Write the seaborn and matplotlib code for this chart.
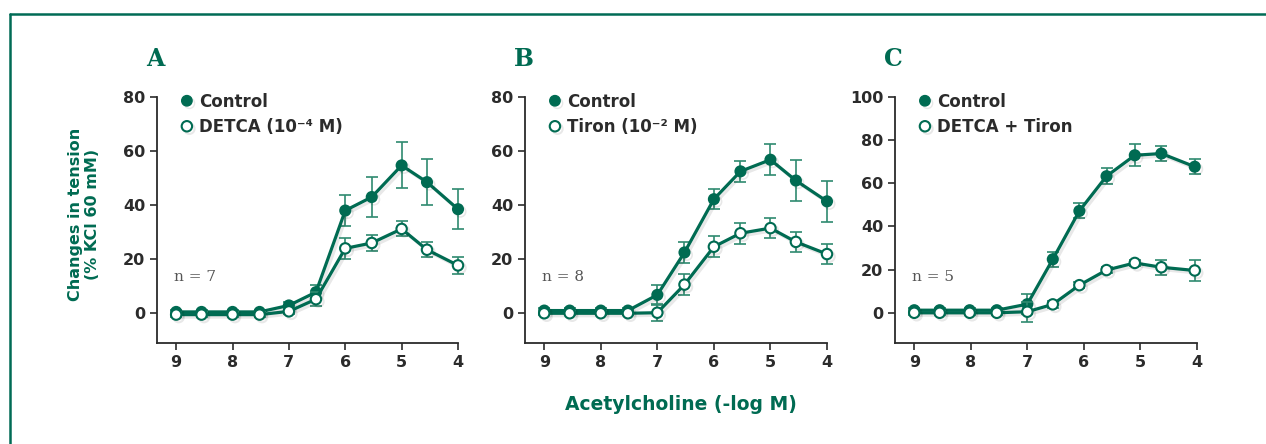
import numpy as np
import pandas as pd
import seaborn as sns
import matplotlib
matplotlib.use("Agg")
import matplotlib.pyplot as plt
from matplotlib.lines import Line2D
import matplotlib.patheffects as pe

# ---------------- data ----------------
x_ab = [9, 8.55, 8, 7.52, 7, 6.52, 6, 5.53, 5, 4.55, 4]
x_c = [9, 8.55, 8.02, 7.54, 7.0, 6.55, 6.08, 5.6, 5.1, 4.63, 4.04]

a_ctrl = [0.5, 0.5, 0.5, 0.5, 2.9, 7.8, 38, 43, 54.7, 48.5, 38.5]
a_ctrl_err = [0.8, 0.8, 0.8, 0.8, 1.2, 2.8, 5.7, 7.5, 8.5, 8.6, 7.5]
a_trt = [-0.5, -0.5, -0.5, -0.5, 0.7, 5.2, 24, 26, 31.2, 23.5, 17.7]
a_trt_err = [0.8, 0.8, 0.8, 0.8, 1.0, 2.6, 3.8, 2.9, 2.8, 2.8, 3.0]

b_ctrl = [1, 1, 1, 1, 6.8, 22.5, 42.2, 52.5, 56.8, 49.1, 41.4]
b_ctrl_err = [0.8, 0.8, 0.8, 0.8, 3.5, 3.8, 3.8, 3.8, 5.7, 7.7, 7.7]
b_trt = [0, 0, 0, 0, 0.2, 10.6, 24.6, 29.6, 31.5, 26.4, 21.9]
b_trt_err = [0.8, 0.8, 0.8, 0.8, 3.0, 3.8, 3.8, 3.8, 3.8, 3.8, 3.8]

c_ctrl = [1.2, 1.2, 1.2, 1.2, 4, 24.8, 47.2, 63.3, 73, 73.8, 67.7]
c_ctrl_err = [1.0, 1.0, 1.0, 1.0, 4.6, 3.6, 3.5, 3.6, 5.0, 3.5, 3.5]
c_trt = [0, 0, 0, 0, 0.5, 3.9, 12.8, 19.8, 23.1, 21.1, 19.6]
c_trt_err = [1.0, 1.0, 1.0, 1.0, 4.6, 1.5, 1.5, 1.5, 1.5, 3.5, 4.8]

panel_letters = ["A", "B", "C"]
trt_labels = ["DETCA (10\u207b\u2074 M)", "Tiron (10\u207b\u00b2 M)", "DETCA + Tiron"]
n_labels = ["n = 7", "n = 8", "n = 5"]
xticks = [9, 8, 7, 6, 5, 4]
yticks_ab = [0, 20, 40, 60, 80]
yticks_c = [0, 20, 40, 60, 80, 100]

# ---------------- style ----------------
sns.set_style("ticks")
plt.rcParams['font.family'] = ['DejaVu Sans']

GREEN = "#006B52"
ERR = "#2F8A70"
DARK = "#2b2b2b"

W, H = 1266, 444
fig = plt.figure(figsize=(W / 100, H / 100), dpi=100)

def px_axes(left, top, right, bottom):
    return fig.add_axes([left / W, 1 - bottom / H, (right - left) / W, (bottom - top) / H])

axes = [
    px_axes(157, 97, 458, 343),
    px_axes(525, 97, 827, 343),
    px_axes(895, 97, 1197, 343),
]

panels = [
    (x_ab, a_ctrl, a_ctrl_err, a_trt, a_trt_err, yticks_ab, (-11, 80)),
    (x_ab, b_ctrl, b_ctrl_err, b_trt, b_trt_err, yticks_ab, (-11, 80)),
    (x_c, c_ctrl, c_ctrl_err, c_trt, c_trt_err, yticks_c, (-14, 100)),
]

shadow = [pe.SimpleLineShadow(offset=(1.8, -1.8), shadow_color="black", alpha=0.09), pe.Normal()]

for i, (ax, (xs, yc, ec, yt, et, yt_ticks, ylim)) in enumerate(zip(axes, panels)):
    df = pd.DataFrame({"x": xs, "ctrl": yc, "trt": yt})
    ax.errorbar(xs, yc, yerr=ec, fmt="none", ecolor=ERR, elinewidth=1.2,
                capsize=4, capthick=1.2, zorder=2, clip_on=False)
    ax.errorbar(xs, yt, yerr=et, fmt="none", ecolor=ERR, elinewidth=1.2,
                capsize=4, capthick=1.2, zorder=4, clip_on=False)
    sns.lineplot(data=df, x="x", y="ctrl", ax=ax, color=GREEN, linewidth=2.3,
                 marker="o", markersize=7.5, markerfacecolor=GREEN,
                 markeredgecolor=GREEN, markeredgewidth=1.2, zorder=3,
                 clip_on=False, path_effects=shadow)
    sns.lineplot(data=df, x="x", y="trt", ax=ax, color=GREEN, linewidth=2.3,
                 marker="o", markersize=7.5, markerfacecolor="white",
                 markeredgecolor=GREEN, markeredgewidth=1.5, zorder=5,
                 clip_on=False, path_effects=shadow)

    ax.set_xlim(9.34, 4)
    ax.set_ylim(*ylim)
    ax.set_xticks(xticks)
    ax.set_xticklabels([str(t) for t in xticks])
    ax.set_yticks(yt_ticks)
    ax.set_yticklabels([str(t) for t in yt_ticks])
    ax.set_xlabel("")
    ax.set_ylabel("")
    for s in ["top", "right"]:
        ax.spines[s].set_visible(False)
    for s in ["left", "bottom"]:
        ax.spines[s].set_color(DARK)
        ax.spines[s].set_linewidth(1.3)
    ax.spines["left"].set_bounds(ylim[0], yt_ticks[-1])
    ax.tick_params(axis="both", direction="out", length=5, width=1.2, color=DARK,
                   labelcolor=DARK, pad=3.5)
    for lab in ax.get_xticklabels() + ax.get_yticklabels():
        lab.set_fontweight("bold")
        lab.set_fontsize(11.5)

    ax.text(-0.005, 1.105, panel_letters[i], transform=ax.transAxes, ha="center",
            va="bottom", fontsize=17, fontweight="bold", color=GREEN,
            family="DejaVu Serif")
    ax.text(0.055, 0.27, n_labels[i], transform=ax.transAxes, ha="left",
            va="center", fontsize=11, color="#555555", family="DejaVu Serif")

    handles = [
        Line2D([], [], linestyle="none", marker="o", markersize=7.5,
               markerfacecolor=GREEN, markeredgecolor=GREEN,
               path_effects=shadow),
        Line2D([], [], linestyle="none", marker="o", markersize=7.5,
               markerfacecolor="white", markeredgecolor=GREEN,
               markeredgewidth=1.5, path_effects=shadow),
    ]
    leg = ax.legend(handles, ["Control", trt_labels[i]], loc="upper left",
                    bbox_to_anchor=(0.055, 1.045), frameon=False,
                    handlelength=0.8, handletextpad=0.35, labelspacing=0.45,
                    borderaxespad=0, prop={"weight": "bold", "size": 12})
    for t in leg.get_texts():
        t.set_color(DARK)

fig.text(84 / W, 1 - 214 / H, "Changes in tension\n(% KCl 60 mM)", rotation=90,
         ha="center", va="center", multialignment="center", color=GREEN,
         fontsize=11.5, fontweight="bold", linespacing=1.1)
fig.text(681 / W, 1 - 404 / H, "Acetylcholine (-log M)", ha="center",
         va="center", color=GREEN, fontsize=13.5, fontweight="bold")

# frame (left and top edges)
fig.add_artist(Line2D([10 / W, 10 / W], [0, 1 - 14 / H], transform=fig.transFigure,
                      color="#006B55", linewidth=1.8))
fig.add_artist(Line2D([10 / W, 1], [1 - 14 / H, 1 - 14 / H], transform=fig.transFigure,
                      color="#006B55", linewidth=1.8))

fig.savefig("out.png", dpi=100)
